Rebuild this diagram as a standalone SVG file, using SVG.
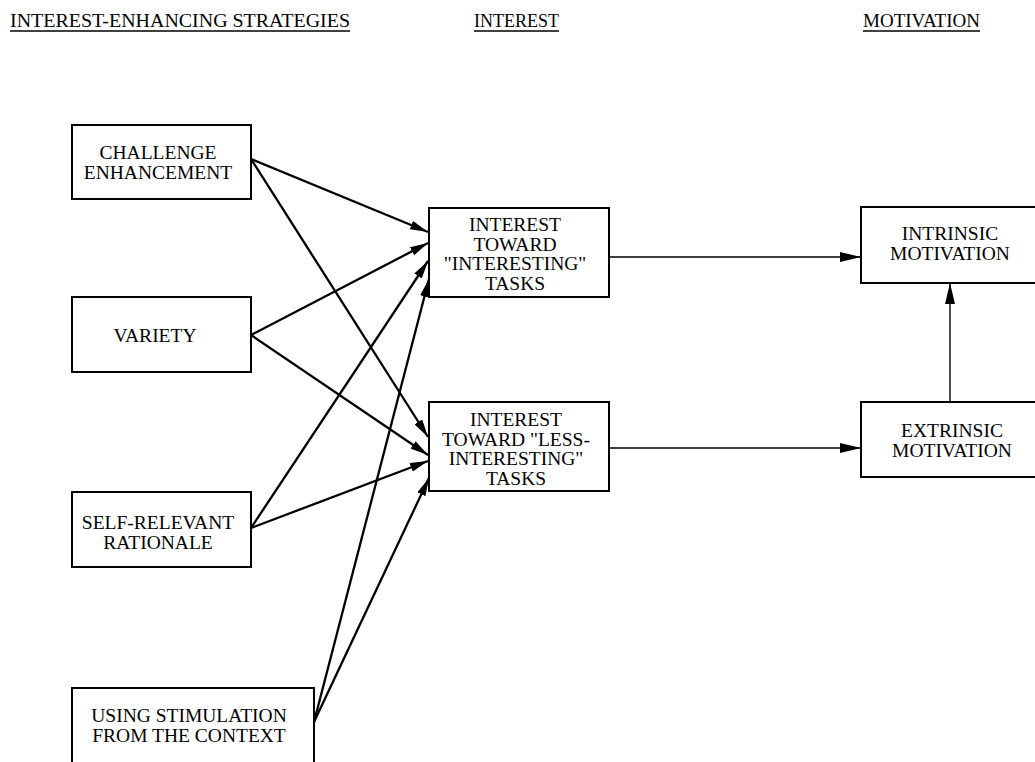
<svg xmlns="http://www.w3.org/2000/svg" width="1035" height="762" viewBox="0 0 1035 762">
<defs>
<style>
.box{fill:#fff;stroke:#000;stroke-width:2}
.t{font-family:"Liberation Serif","Times New Roman",serif;font-size:19.5px;fill:#000;text-anchor:middle}
.h{font-family:"Liberation Serif","Times New Roman",serif;font-size:18.5px;fill:#000}
.ul{stroke:#000;stroke-width:1.3}
.thick{stroke:#000;stroke-width:2.3;fill:none}
.thin{stroke:#000;stroke-width:1.4;fill:none}
</style>
<marker id="ah" viewBox="0 0 18 9" refX="18" refY="4.5" markerWidth="18" markerHeight="9" markerUnits="userSpaceOnUse" orient="auto">
<path d="M0,0 L18,4.5 L0,9 Z" fill="#000"/>
</marker>
<marker id="ah2" viewBox="0 0 21 10" refX="21" refY="5" markerWidth="21" markerHeight="10" markerUnits="userSpaceOnUse" orient="auto">
<path d="M0,0 L21,5 L0,10 Z" fill="#000"/>
</marker>
</defs>
<rect width="1035" height="762" fill="#fff"/>

<g id="headers">
<text class="h" x="10" y="27" textLength="340" lengthAdjust="spacingAndGlyphs">INTEREST-ENHANCING STRATEGIES</text>
<line class="ul" x1="10" y1="31" x2="350" y2="31"/>
<text class="h" x="474" y="27" textLength="85" lengthAdjust="spacingAndGlyphs">INTEREST</text>
<line class="ul" x1="474" y1="31" x2="559" y2="31"/>
<text class="h" x="863" y="27" textLength="117" lengthAdjust="spacingAndGlyphs">MOTIVATION</text>
<line class="ul" x1="863" y1="31" x2="980" y2="31"/>
</g>

<g id="connectors">
<line class="thick" x1="251" y1="159" x2="428" y2="232" marker-end="url(#ah)"/>
<line class="thick" x1="251" y1="159" x2="428" y2="437" marker-end="url(#ah)"/>
<line class="thick" x1="251" y1="335" x2="428" y2="243" marker-end="url(#ah)"/>
<line class="thick" x1="251" y1="335" x2="428" y2="455" marker-end="url(#ah)"/>
<line class="thick" x1="251" y1="528" x2="428" y2="261" marker-end="url(#ah)"/>
<line class="thick" x1="251" y1="528" x2="428" y2="461" marker-end="url(#ah)"/>
<line class="thick" x1="314" y1="722" x2="429" y2="279" marker-end="url(#ah)"/>
<line class="thick" x1="314" y1="722" x2="429" y2="478" marker-end="url(#ah)"/>
<line class="thin" x1="609" y1="257" x2="861" y2="257" marker-end="url(#ah2)"/>
<line class="thin" x1="609" y1="448" x2="861" y2="448" marker-end="url(#ah2)"/>
<line class="thin" x1="950" y1="402" x2="950" y2="283" marker-end="url(#ah2)"/>
</g>

<g id="challenge">
<rect class="box" x="72" y="125" width="179" height="74"/>
<text class="t" x="158" y="158.5">CHALLENGE</text>
<text class="t" x="158" y="178.5">ENHANCEMENT</text>
</g>
<g id="variety">
<rect class="box" x="72" y="297" width="179" height="75"/>
<text class="t" x="155" y="342">VARIETY</text>
</g>
<g id="self-relevant">
<rect class="box" x="72" y="492" width="179" height="75"/>
<text class="t" x="158" y="528.5">SELF-RELEVANT</text>
<text class="t" x="158" y="548.5">RATIONALE</text>
</g>
<g id="stimulation">
<rect class="box" x="72" y="688" width="242" height="90"/>
<text class="t" x="189" y="721.5">USING STIMULATION</text>
<text class="t" x="189" y="741.5">FROM THE CONTEXT</text>
</g>
<g id="interest-interesting">
<rect class="box" x="429" y="208" width="180" height="89"/>
<text class="t" x="515" y="231">INTEREST</text>
<text class="t" x="515" y="250.5">TOWARD</text>
<text class="t" x="515" y="270">"INTERESTING"</text>
<text class="t" x="515" y="289.5">TASKS</text>
</g>
<g id="interest-less">
<rect class="box" x="429" y="402" width="180" height="89"/>
<text class="t" x="516" y="426">INTEREST</text>
<text class="t" x="516" y="445.5">TOWARD "LESS-</text>
<text class="t" x="516" y="465">INTERESTING"</text>
<text class="t" x="516" y="484.5">TASKS</text>
</g>
<g id="intrinsic">
<rect class="box" x="861" y="207" width="180" height="76"/>
<text class="t" x="950" y="239.5">INTRINSIC</text>
<text class="t" x="950" y="259.5">MOTIVATION</text>
</g>
<g id="extrinsic">
<rect class="box" x="861" y="402" width="180" height="75"/>
<text class="t" x="952" y="436.5">EXTRINSIC</text>
<text class="t" x="952" y="456.5">MOTIVATION</text>
</g>
</svg>
